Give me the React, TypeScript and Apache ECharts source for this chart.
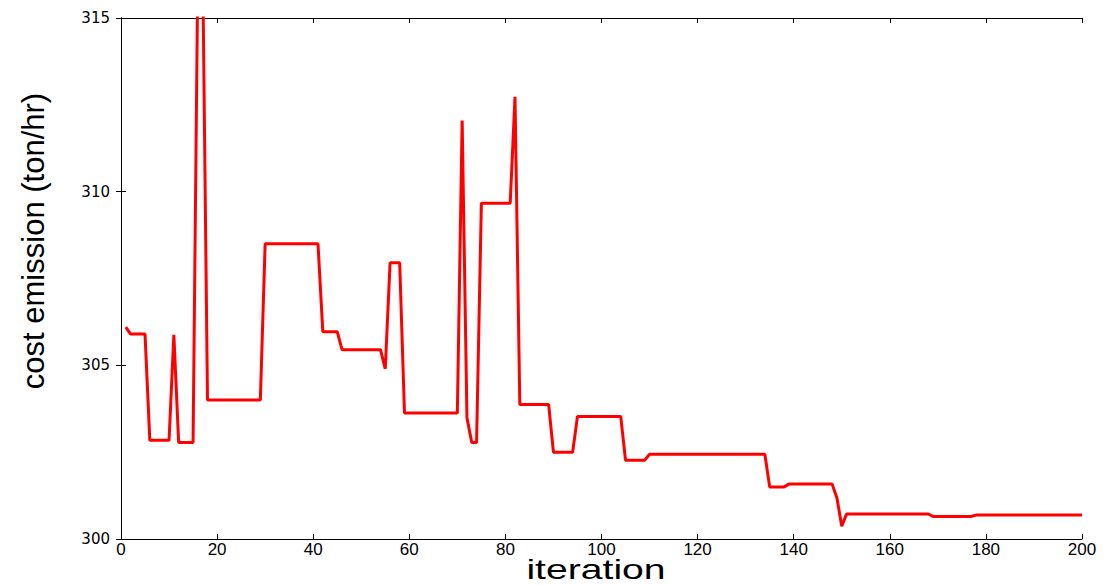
import React, { useEffect, useRef } from "react";
import * as echarts from "echarts";

// Breakpoints of the convergence curve (iteration, cost emission in ton/hr)
const iterations = [
  1, 2, 5, 6, 10, 11, 12, 15, 16, 17, 18, 29, 30, 41, 42, 45, 46, 54, 55, 56,
  58, 59, 70, 71, 72, 73, 74, 75, 81, 82, 83, 89, 90, 94, 95, 104, 105, 109,
  110, 134, 135, 138, 139, 148, 149, 150, 151, 168, 169, 177, 178, 200,
];
const costEmission = [
  306.1, 305.9, 305.9, 302.84, 302.84, 305.88, 302.78, 302.78, 316.5, 316.5,
  304.0, 304.0, 308.5, 308.5, 305.97, 305.97, 305.45, 305.45, 304.9, 307.95,
  307.95, 303.63, 303.63, 312.05, 303.49, 302.78, 302.78, 309.67, 309.67,
  312.73, 303.87, 303.87, 302.5, 302.5, 303.53, 303.53, 302.27, 302.27, 302.44,
  302.44, 301.5, 301.5, 301.58, 301.58, 301.18, 300.37, 300.72, 300.72, 300.65,
  300.65, 300.69, 300.69,
];

const xMin = 0;
const xMax = 200;
const xInterval = 20;
const yMin = 300;
const yMax = 315;
const yInterval = 5;

const xTitle = "iteration";
const yTitle = "cost emission (ton/hr)";

export default function App() {
  const ref = useRef<HTMLDivElement>(null);

  useEffect(() => {
    if (!ref.current) return;
    const chart = echarts.init(ref.current, null, { renderer: "svg" });
    const data = iterations.map((it, i) => [it, costEmission[i]]);
    const axisLine = { show: true, lineStyle: { color: "#000", width: 1 } };
    const axisTick = {
      show: true,
      inside: true,
      length: 5,
      lineStyle: { color: "#000", width: 1 },
    };
    chart.setOption({
      animation: false,
      backgroundColor: "#fff",
      grid: { left: 121, right: 28, top: 18, bottom: 46 },
      xAxis: [
        {
          type: "value",
          min: xMin,
          max: xMax,
          interval: xInterval,
          axisLine,
          axisTick,
          splitLine: { show: false },
          axisLabel: {
            color: "#000",
            fontFamily: "'Liberation Sans', Arial, sans-serif",
            fontSize: 17,
            margin: 2,
          },
        },
        {
          type: "value",
          position: "top",
          min: xMin,
          max: xMax,
          interval: xInterval,
          axisLine,
          axisTick,
          splitLine: { show: false },
          axisLabel: { show: false },
        },
      ],
      yAxis: [
        {
          type: "value",
          min: yMin,
          max: yMax,
          interval: yInterval,
          axisLine,
          axisTick,
          splitLine: { show: false },
          axisLabel: {
            color: "#000",
            fontFamily: "'DejaVu Sans', sans-serif",
            fontSize: 15,
            margin: 11,
          },
        },
        {
          type: "value",
          position: "right",
          min: yMin,
          max: yMax,
          interval: yInterval,
          axisLine,
          axisTick,
          splitLine: { show: false },
          axisLabel: { show: false },
        },
      ],
      graphic: [
        {
          type: "text",
          x: 596,
          y: 583,
          scaleX: 1.45,
          style: {
            text: xTitle,
            fill: "#000",
            font: "27px 'Liberation Sans', Arial, sans-serif",
            textAlign: "center",
            textVerticalAlign: "bottom",
          },
        },
        {
          type: "text",
          x: 33,
          y: 241,
          rotation: Math.PI / 2,
          style: {
            text: yTitle,
            fill: "#000",
            font: "31px 'Liberation Sans', Arial, sans-serif",
            textAlign: "center",
            textVerticalAlign: "middle",
          },
        },
      ],
      series: [
        {
          type: "line",
          data,
          showSymbol: false,
          symbol: "none",
          clip: true,
          lineStyle: { color: "#ff0000", width: 3 },
          itemStyle: { color: "#ff0000" },
        },
      ],
    });
    return () => chart.dispose();
  }, []);

  return (
    <div
      ref={ref}
      style={{ position: "absolute", left: 0, top: 0, width: 1110, height: 585 }}
    />
  );
}
